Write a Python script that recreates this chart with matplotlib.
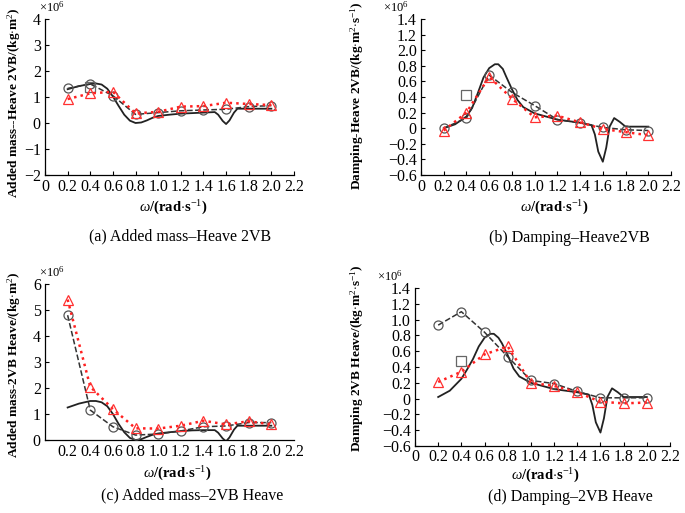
import numpy as np
import matplotlib as mpl
from matplotlib import pyplot as plt

mpl.rcParams['font.family'] = ['Liberation Serif', 'DejaVu Serif']
mpl.rcParams['mathtext.fontset'] = 'custom'
mpl.rcParams['mathtext.rm'] = 'Liberation Serif'
mpl.rcParams['mathtext.it'] = 'Liberation Serif:italic'
mpl.rcParams['mathtext.bf'] = 'Liberation Serif:bold'
mpl.rcParams['xtick.labelsize'] = 11.5
mpl.rcParams['ytick.labelsize'] = 11.5

W, H = 685, 513

# sample frequencies (markers)
omega = [0.2, 0.4, 0.6, 0.8, 1.0, 1.2, 1.4, 1.6, 1.8, 2.0]

# (a) added mass - heave 2VB, x1e6
a_circ = [1.33, 1.50, 1.05, 0.33, 0.40, 0.47, 0.50, 0.53, 0.63, 0.67]
a_tri = [0.92, 1.14, 1.20, 0.37, 0.43, 0.63, 0.65, 0.78, 0.73, 0.69]
a_sq = [1.40]
a_line_x = [0.2, 0.3, 0.4, 0.45, 0.5, 0.55, 0.6, 0.65, 0.7, 0.75, 0.8, 0.85, 0.9, 0.95, 1.0,
            1.1, 1.2, 1.3, 1.4, 1.5, 1.53, 1.57, 1.6, 1.63, 1.67, 1.7, 1.8, 1.9, 2.0]
a_line_y = [1.30, 1.42, 1.50, 1.52, 1.48, 1.32, 1.02, 0.66, 0.32, 0.09, 0.0, 0.02, 0.10, 0.20, 0.27,
            0.32, 0.36, 0.38, 0.40, 0.42, 0.32, 0.08, -0.04, 0.10, 0.40, 0.55, 0.55, 0.55, 0.55]

# (b) damping - heave 2VB, x1e6
b_circ = [0.0, 0.13, 0.68, 0.46, 0.29, 0.11, 0.07, 0.01, -0.02, -0.03]
b_tri = [-0.03, 0.20, 0.66, 0.38, 0.14, 0.16, 0.075, -0.01, -0.05, -0.09]
b_sq = [0.42]
b_line_x = [0.2, 0.3, 0.4, 0.45, 0.5, 0.55, 0.6, 0.65, 0.68, 0.72, 0.75, 0.8, 0.85, 0.9, 1.0,
            1.1, 1.2, 1.3, 1.4, 1.5, 1.53, 1.56, 1.6, 1.63, 1.66, 1.7, 1.75, 1.8, 1.9, 2.0]
b_line_y = [0.0, 0.05, 0.15, 0.26, 0.45, 0.65, 0.77, 0.82, 0.82, 0.76, 0.66, 0.50, 0.36, 0.27, 0.19,
            0.15, 0.11, 0.09, 0.07, 0.04, -0.08, -0.30, -0.43, -0.25, 0.02, 0.13, 0.08, 0.02, 0.02, 0.02]

# (c) added mass - 2VB heave, x1e6
c_circ = [4.80, 1.15, 0.51, 0.19, 0.23, 0.35, 0.51, 0.54, 0.67, 0.67]
c_tri = [5.40, 2.05, 1.19, 0.45, 0.44, 0.55, 0.74, 0.60, 0.72, 0.60]
c_line_x = [0.2, 0.3, 0.4, 0.45, 0.5, 0.55, 0.6, 0.65, 0.7, 0.75, 0.8, 0.85, 0.9, 0.95, 1.0,
            1.1, 1.2, 1.3, 1.4, 1.5, 1.53, 1.57, 1.6, 1.63, 1.67, 1.7, 1.8, 1.9, 2.0]
c_line_y = [1.25, 1.40, 1.50, 1.50, 1.45, 1.30, 1.00, 0.62, 0.30, 0.08, 0.0, 0.03, 0.12, 0.20, 0.25,
            0.30, 0.34, 0.37, 0.38, 0.38, 0.28, 0.06, -0.05, 0.10, 0.40, 0.55, 0.55, 0.55, 0.55]

# (d) damping - 2VB heave, x1e6
d_circ = [0.93, 1.10, 0.84, 0.53, 0.23, 0.19, 0.09, 0.01, 0.01, 0.01]
d_tri = [0.21, 0.34, 0.56, 0.66, 0.20, 0.16, 0.08, -0.04, -0.06, -0.05]
d_sq = [0.48]
d_line_x = [0.2, 0.3, 0.4, 0.45, 0.5, 0.55, 0.6, 0.65, 0.68, 0.72, 0.75, 0.8, 0.85, 0.9, 1.0,
            1.1, 1.2, 1.3, 1.4, 1.5, 1.53, 1.56, 1.6, 1.63, 1.66, 1.7, 1.75, 1.8, 1.9, 2.0]
d_line_y = [0.02, 0.10, 0.25, 0.37, 0.50, 0.66, 0.77, 0.82, 0.82, 0.77, 0.70, 0.55, 0.38, 0.28, 0.20,
            0.16, 0.12, 0.10, 0.08, 0.05, -0.08, -0.30, -0.43, -0.25, 0.02, 0.13, 0.08, 0.02, 0.02, 0.02]

fig = plt.figure(figsize=(W / 100, H / 100), dpi=100)


def add_axes(l, r, t, b):
    return fig.add_axes([l / W, 1 - b / H, (r - l) / W, (b - t) / H])


def fig_text(x, y, s, **kw):
    fig.text(x / W, 1 - y / H, s, **kw)


def draw(ax, line_x, line_y, circ, tri, sq):
    ax.plot(line_x, line_y, '-', color='#222222', lw=1.3, zorder=3)
    ax.plot(omega, circ, '--', color='#333333', lw=1.1, marker='o', ms=6.5,
            mfc='none', mec='#555555', mew=0.9, zorder=4)
    ax.plot(omega, tri, ':', color='#ff2020', lw=1.8, marker='^', ms=6.5,
            mfc='none', mec='#ff3030', mew=0.9, zorder=5)
    if sq:
        ax.plot(omega[1:2], sq, ls='none', marker='s', ms=6.5, mfc='none',
                mec='#666666', mew=0.9, zorder=4)


def style(ax, yticks, ylabels, xticks, xlabels):
    ax.set_xlim(0, 2.2)
    ax.set_ylim(yticks[0], yticks[-1])
    ax.set_yticks(yticks)
    ax.set_yticklabels(ylabels)
    ax.set_xticks(xticks)
    ax.set_xticklabels(xlabels)
    ax.spines['top'].set_visible(False)
    ax.spines['right'].set_visible(False)
    ax.tick_params(direction='in', length=3, width=0.8, pad=3)
    for s in ['left', 'bottom']:
        ax.spines[s].set_linewidth(0.9)


xt = [0, 0.2, 0.4, 0.6, 0.8, 1.0, 1.2, 1.4, 1.6, 1.8, 2.0, 2.2]
xl = ['0', '0.2', '0.4', '0.6', '0.8', '1.0', '1.2', '1.4', '1.6', '1.8', '2.0', '2.2']

# (a)
ax = add_axes(45, 294, 19, 175)
draw(ax, a_line_x, a_line_y, a_circ, a_tri, a_sq)
style(ax, [-2, -1, 0, 1, 2, 3, 4], ['\u22122', '\u22121', '0', '1', '2', '3', '4'], xt, xl)

# (b)
ax = add_axes(421, 671, 19, 175)
draw(ax, b_line_x, b_line_y, b_circ, b_tri, b_sq)
bt = [-0.6, -0.4, -0.2, 0, 0.2, 0.4, 0.6, 0.8, 1.0, 1.2, 1.4]
bl = ['\u22120.6', '\u22120.4', '\u22120.2', '0', '0.2', '0.4', '0.6', '0.8', '2.0', '1.2', '1.4']
style(ax, bt, bl, xt, xl)

# (c)
ax = add_axes(45, 294, 284, 440)
draw(ax, c_line_x, c_line_y, c_circ, c_tri, None)
style(ax, [0, 1, 2, 3, 4, 5, 6], ['0', '1', '2', '3', '4', '5', '6'], xt, [''] + xl[1:])
ax.tick_params(axis='x', length=0)

# (d)
ax = add_axes(415, 670, 288, 446)
draw(ax, d_line_x, d_line_y, d_circ, d_tri, d_sq)
dl = ['\u22120.6', '\u22120.4', '\u22120.2', '0', '0.2', '0.4', '0.6', '0.8', '1.0', '1.2', '1.4']
style(ax, bt, dl, xt, xl)
ax.tick_params(axis='x', pad=2)

# multipliers
for x, y in [(39, 7), (383, 7), (39, 272), (377, 276)]:
    fig_text(x, y, '\u00d710$^6$', fontsize=9, va='center')

# axis labels
xlab = r'$\omega$/(rad$\cdot$s$^{-1}$)'
for x, y in [(173, 208), (554, 208), (177, 474), (545, 476)]:
    fig_text(x, y, xlab, fontsize=10.5, fontweight='bold', ha='center', va='center')

ylabs = [(14, 103, r'Added mass--Heave 2VB/(kg$\cdot$m$^2$)'),
         (357, 96, r'Damping-Heave 2VB/(kg$\cdot$m$^2$$\cdot$s$^{-1}$)'),
         (14, 365, r'Added mass-2VB Heave/(kg$\cdot$m$^2$)'),
         (357, 358, r'Damping 2VB Heave/(kg$\cdot$m$^2$$\cdot$s$^{-1}$)')]
for x, y, s in ylabs:
    fig_text(x, y, s, fontsize=9.6, fontweight='bold', rotation=90, ha='center', va='center')

# captions
caps = [(180, 236, '(a) Added mass\u2013Heave 2VB'),
        (569, 238, '(b) Damping\u2013Heave2VB'),
        (192, 495, '(c) Added mass\u20132VB Heave'),
        (570, 497, '(d) Damping\u20132VB Heave')]
for x, y, s in caps:
    fig_text(x, y, s, fontsize=11.5, ha='center', va='center')

fig.savefig('out.png', dpi=100)
